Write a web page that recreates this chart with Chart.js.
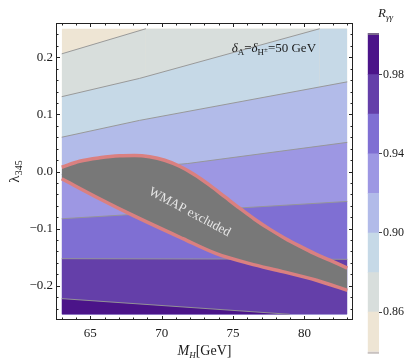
<!DOCTYPE html>
<html>
<head>
<meta charset="utf-8">
<script src="https://cdn.jsdelivr.net/npm/chart.js@4.4.0/dist/chart.umd.min.js"></script>
<style>
body { margin: 0; background: #fff; }
#wrap { position: relative; width: 409px; height: 360px; }
#main { position: absolute; left: 0; top: 0; }
#bar { position: absolute; left: 355px; top: 0; }
</style>
</head>
<body>
<div id="wrap">
<canvas id="main" width="409" height="360"></canvas>
<canvas id="bar" width="54" height="360"></canvas>
</div>
<script>
var SERIF = '"Liberation Serif", "DejaVu Serif", serif';

// axis ticks
var xTicks = [65, 70, 75, 80];
var yTicks = [-0.2, -0.1, 0.0, 0.1, 0.2];
var levelTicks = [0.86, 0.90, 0.94, 0.98];

// R_gamma-gamma contour levels and band colours (low -> high)
var levels = [0.84, 0.86, 0.88, 0.90, 0.92, 0.94, 0.96, 0.98, 1.00];
var bandColors = ['#eee5d4', '#d8dedc', '#c6d9e7', '#b2bbe9', '#9d97e3', '#7f6fd3', '#643fa9', '#4b1489'];

// contour lines (M_H, lambda_345)
var c086M = [63, 68.9, 83];          var c086L = [0.206, 0.25, 0.25];
var c088M = [63, 68.45, 81.07, 83];  var c088L = [0.131, 0.163, 0.25, 0.25];
var c090M = [63, 68.45, 83];         var c090L = [0.060, 0.0895, 0.157];
var c092M = [63, 71.83, 83];         var c092L = [-0.005, 0.014, 0.051];
var c094M = [63, 83];                var c094L = [-0.0827, -0.0524];
var c096M = [63, 83];                var c096L = [-0.1526, -0.1538];
var c098M = [63, 78.97, 83];         var c098L = [-0.2226, -0.25, -0.25];
var topM = [63, 83];                 var topL = [0.25, 0.25];

// WMAP excluded region
var wmapTopM = [63, 64.25, 65.65, 67.05, 68.10, 69.16, 70.21, 71.26, 72.31, 73.36, 74.41,
                75.46, 76.51, 77.56, 78.62, 79.67, 80.72, 81.77, 83];
var wmapTopL = [0.0074, 0.0179, 0.0240, 0.0275, 0.0279, 0.0258, 0.0197, 0.0092, -0.0057, -0.0240, -0.0441,
                -0.0642, -0.0835, -0.1009, -0.1167, -0.1307, -0.1438, -0.1552, -0.1691];
var wmapBotM = [63, 65.65, 67.99, 71.49, 73.83, 76.16, 78.47, 80.84, 83];
var wmapBotL = [-0.0127, -0.0477, -0.0769, -0.1176, -0.1439, -0.1613, -0.1753, -0.1905, -0.208];
var wmapLabel = [71.96, -0.0712];
var deltaLabel = [74.9, 0.2173];

function pts(xs, ys) {
  return xs.map(function (x, i) { return {x: x, y: ys[i]}; });
}

var lineColor = 'rgba(150,150,150,0.95)';
function edgeColor(c) {
  var a = c.p0.parsed.y, b = c.p1.parsed.y;
  if ((a >= 0.25 && b >= 0.25) || (a <= -0.25 && b <= -0.25)) return 'rgba(0,0,0,0)';
  return lineColor;
}

function band(xs, ys, color) {
  return {
    data: pts(xs, ys),
    showLine: true,
    backgroundColor: color,
    borderColor: lineColor,
    borderWidth: 1,
    pointRadius: 0,
    fill: {value: -0.25},
    segment: {borderColor: edgeColor}
  };
}

var topBand = band(topM, topL, bandColors[0]);
topBand.borderWidth = 0;

var datasets = [
  {
    data: pts(wmapBotM, wmapBotL), showLine: true, pointRadius: 0,
    borderColor: '#da8080', borderWidth: 3.5, cubicInterpolationMode: 'monotone', fill: false
  },
  {
    data: pts(wmapTopM, wmapTopL), showLine: true, pointRadius: 0,
    borderColor: '#da8080', borderWidth: 3.5, cubicInterpolationMode: 'monotone',
    backgroundColor: '#787878', fill: '-1'
  },
  band(c098M, c098L, bandColors[7]),
  band(c096M, c096L, bandColors[6]),
  band(c094M, c094L, bandColors[5]),
  band(c092M, c092L, bandColors[4]),
  band(c090M, c090L, bandColors[3]),
  band(c088M, c088L, bandColors[2]),
  band(c086M, c086L, bandColors[1]),
  topBand
];

function drawRuns(ctx, x, y, runs) {
  runs.forEach(function (r) {
    ctx.font = (r.it ? 'italic ' : '') + r.s + 'px ' + SERIF;
    ctx.fillText(r.t, x, y + (r.dy || 0));
    x += ctx.measureText(r.t).width;
  });
}
function runsWidth(ctx, runs) {
  var w = 0;
  runs.forEach(function (r) {
    ctx.font = (r.it ? 'italic ' : '') + r.s + 'px ' + SERIF;
    w += ctx.measureText(r.t).width;
  });
  return w;
}

var decor = {
  id: 'decor',
  afterDatasetsDraw: function (chart) {
    var ctx = chart.ctx, xs = chart.scales.x, ys = chart.scales.y;
    ctx.save();
    ctx.translate(xs.getPixelForValue(wmapLabel[0]), ys.getPixelForValue(wmapLabel[1]));
    ctx.rotate(28 * Math.PI / 180);
    ctx.font = '13px ' + SERIF;
    ctx.fillStyle = '#e6e6e6';
    ctx.textAlign = 'center';
    ctx.textBaseline = 'middle';
    ctx.fillText('WMAP excluded', 0, 0);
    ctx.restore();

    ctx.save();
    ctx.fillStyle = '#1a1a1a';
    ctx.textBaseline = 'alphabetic';
    drawRuns(ctx, xs.getPixelForValue(deltaLabel[0]), ys.getPixelForValue(deltaLabel[1]) + 4.5, [
      {t: '\u03b4', it: true, s: 13}, {t: 'A', s: 9, dy: 3},
      {t: '=', s: 13}, {t: '\u03b4', it: true, s: 13}, {t: 'H', s: 9, dy: 3}, {t: '\u00b1', s: 7, dy: 0},
      {t: '=50 GeV', s: 13}
    ]);
    ctx.restore();
  },
  afterDraw: function (chart) {
    var ctx = chart.ctx, a = chart.chartArea, xs = chart.scales.x, ys = chart.scales.y;
    ctx.save();
    ctx.strokeStyle = '#222';
    ctx.lineWidth = 1;
    ctx.strokeRect(Math.round(a.left) + 0.5, Math.round(a.top) + 0.5,
      Math.round(a.right - a.left) - 1, Math.round(a.bottom - a.top) - 1);
    ctx.beginPath();
    var m, p, len;
    for (m = 63; m <= 83; m++) {
      p = Math.round(xs.getPixelForValue(m)) + 0.5;
      len = xTicks.indexOf(m) >= 0 ? 4 : 2.5;
      ctx.moveTo(p, a.bottom); ctx.lineTo(p, a.bottom - len);
      ctx.moveTo(p, a.top); ctx.lineTo(p, a.top + len);
    }
    for (m = -12; m <= 12; m++) {
      var v = m * 0.02;
      p = Math.round(ys.getPixelForValue(v)) + 0.5;
      len = (m % 5 === 0) ? 4 : 2.5;
      ctx.moveTo(a.left, p); ctx.lineTo(a.left + len, p);
      ctx.moveTo(a.right, p); ctx.lineTo(a.right - len, p);
    }
    ctx.stroke();

    ctx.fillStyle = '#1a1a1a';
    ctx.textBaseline = 'alphabetic';
    var xt = [{t: 'M', it: true, s: 14}, {t: 'H', it: true, s: 9, dy: 3}, {t: '[GeV]', s: 14}];
    var w = runsWidth(ctx, xt);
    drawRuns(ctx, (a.left + a.right) / 2 - w / 2, 355, xt);

    var yt = [{t: '\u03bb', s: 15}, {t: '345', s: 10, dy: 3}];
    w = runsWidth(ctx, yt);
    ctx.translate(19, (a.top + a.bottom) / 2);
    ctx.rotate(-Math.PI / 2);
    drawRuns(ctx, -w / 2, 0, yt);
    ctx.restore();
  }
};

new Chart(document.getElementById('main'), {
  type: 'scatter',
  data: {datasets: datasets},
  options: {
    responsive: false,
    animation: false,
    devicePixelRatio: 1,
    layout: {padding: {left: 0, right: 56, top: 23, bottom: 0}},
    plugins: {legend: {display: false}, tooltip: {enabled: false}},
    scales: {
      x: {
        type: 'linear', min: 62.6, max: 83.4,
        afterBuildTicks: function (s) { s.ticks = xTicks.map(function (v) { return {value: v}; }); },
        afterFit: function (s) { s.height = 40; },
        grid: {display: false, drawTicks: false},
        border: {display: false},
        ticks: {font: {family: SERIF, size: 13}, color: '#1a1a1a', padding: 6, maxRotation: 0}
      },
      y: {
        type: 'linear', min: -0.26, max: 0.26,
        afterBuildTicks: function (s) { s.ticks = yTicks.map(function (v) { return {value: v}; }); },
        afterFit: function (s) { s.width = 56; },
        grid: {display: false, drawTicks: false},
        border: {display: false},
        ticks: {
          font: {family: SERIF, size: 13}, color: '#1a1a1a', padding: 3,
          callback: function (v) { return v.toFixed(1).replace('-', '\u2212'); }
        }
      }
    }
  },
  plugins: [decor]
});

var barDecor = {
  id: 'barDecor',
  afterDatasetsDraw: function (chart) {
    var ctx = chart.ctx, a = chart.chartArea;
    ctx.save();
    ctx.fillStyle = '#7a6a8c';
    ctx.fillRect(a.left, a.top - 2, a.right - a.left, 2);
    ctx.fillStyle = '#c9c2c0';
    ctx.fillRect(a.left, a.bottom, a.right - a.left, 2);
    ctx.fillStyle = '#1a1a1a';
    ctx.textBaseline = 'alphabetic';
    drawRuns(ctx, 23, 17, [{t: 'R', it: true, s: 13}, {t: '\u03b3\u03b3', it: true, s: 9, dy: 3}]);
    ctx.restore();
  }
};

new Chart(document.getElementById('bar'), {
  type: 'bar',
  data: {
    labels: [''],
    datasets: bandColors.map(function (c, i) {
      return {
        data: [[levels[i], levels[i + 1]]],
        backgroundColor: c, borderWidth: 0,
        barPercentage: 1, categoryPercentage: 1, grouped: false
      };
    })
  },
  options: {
    responsive: false,
    animation: false,
    devicePixelRatio: 1,
    layout: {padding: {left: 12.7, right: 0, top: 35, bottom: 4}},
    plugins: {legend: {display: false}, tooltip: {enabled: false}},
    scales: {
      x: {display: false},
      y: {
        position: 'right', min: 0.84, max: 1.0,
        afterBuildTicks: function (s) { s.ticks = levelTicks.map(function (v) { return {value: v}; }); },
        afterFit: function (s) { s.width = 30; },
        grid: {drawOnChartArea: false, tickLength: 3, color: '#444'},
        border: {display: false},
        ticks: {
          font: {family: SERIF, size: 12}, color: '#1a1a1a', padding: 1,
          callback: function (v) { return v.toFixed(2); }
        }
      }
    }
  },
  plugins: [barDecor]
});
</script>
</body>
</html>
